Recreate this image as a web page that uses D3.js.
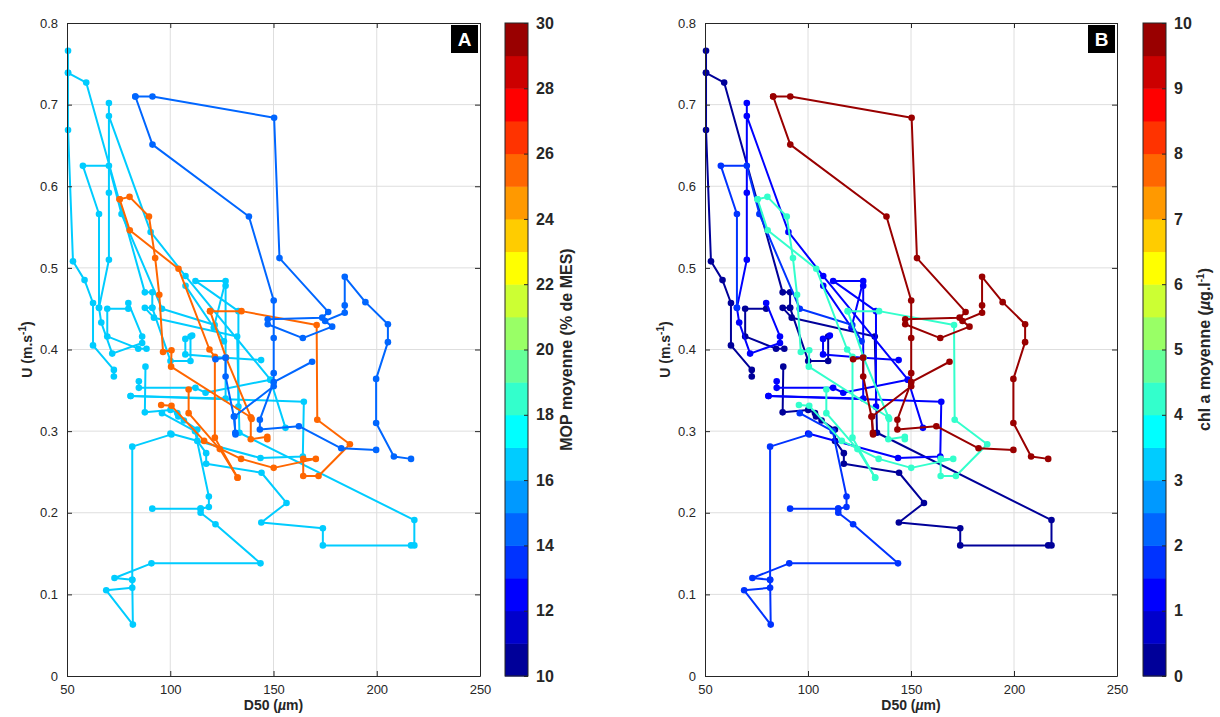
<!DOCTYPE html>
<html><head><meta charset="utf-8">
<script src="https://cdn.jsdelivr.net/npm/d3@7"></script>
<style>body{margin:0;background:#fff} text{font-family:"Liberation Sans",Arial,Helvetica,sans-serif}</style>
</head><body><svg id="c" width="1220" height="717"></svg>
<script>
// ---- data ----
const xTicks=[50,100,150,200,250];
const yTicks=[0,0.1,0.2,0.3,0.4,0.5,0.6,0.7,0.8];
const yTickLabels=["0","0.1","0.2","0.3","0.4","0.5","0.6","0.7","0.8"];
const mopTicks=[10,12,14,16,18,20,22,24,26,28,30];
const chlTicks=[0,1,2,3,4,5,6,7,8,9,10];
const jet20=["#000099","#0000CC","#0000FF","#0033FF","#0066FF","#0099FF","#00CCFF","#00FFFF","#33FFCC","#66FF99","#99FF66","#CCFF33","#FFFF00","#FFCC00","#FF9900","#FF6600","#FF3300","#FF0000","#CC0000","#990000"];

// trajectories: [D50 (µm), U (m/s)]
const n1=[[50.5,0.766],[50.5,0.739],[50.5,0.669],[52.9,0.508],[58.5,0.485],[62.6,0.457],[62.6,0.405],[72.7,0.375],[72.7,0.367]];
const n2=[[50.5,0.739],[59.3,0.727],[87.7,0.47],[91.3,0.47],[91.3,0.451],[87.7,0.451],[92.1,0.439],[132.4,0.416],[133.5,0.298],[218.2,0.191],[218.2,0.16],[216.6,0.16],[173.9,0.16],[173.9,0.181],[144.1,0.188],[156.3,0.212],[144.2,0.249],[117.4,0.26],[117.4,0.273],[113.1,0.288],[113.1,0.302],[106.6,0.313],[103.9,0.318],[103.4,0.322],[100.1,0.326],[87.7,0.323],[88,0.379]];
const n3=[[79.7,0.45],[69.5,0.45],[69.5,0.416],[84.5,0.401],[88.5,0.401]];
const n4=[[91.3,0.451],[100.1,0.386],[109.8,0.386],[109.8,0.416]];
const b1=[[79.7,0.457],[86.4,0.416],[86.4,0.408],[71.9,0.395],[66.6,0.433],[65.5,0.451],[70.3,0.51],[70.3,0.592],[70.3,0.702],[70.3,0.686],[90.5,0.544],[107.4,0.49],[148.5,0.363],[155.8,0.304]];
const b2=[[107.4,0.478],[121.1,0.427],[126.8,0.484],[112.2,0.484],[133,0.447],[133,0.33]];
const b3=[[126.8,0.478],[126.8,0.34],[80.8,0.343]];
const b4=[[80.8,0.343],[164.7,0.336],[164.2,0.269],[143.7,0.267],[100.1,0.297]];
const b5=[[110.6,0.417],[107.3,0.413],[107.3,0.394],[126.8,0.39],[144,0.387]];
const b6=[[84.8,0.361],[84.8,0.353],[112.2,0.353],[117.1,0.347],[148.5,0.363]];
const m1=[[100.6,0.296],[81.6,0.281],[81.6,0.118],[81.6,0.108],[69,0.105],[81.9,0.063],[81.6,0.118],[73,0.12],[90.9,0.138],[143.7,0.138],[121.9,0.186],[114.7,0.2],[114.7,0.205],[91.3,0.205]];
const m2=[[114.7,0.205],[118.7,0.207],[118.7,0.22],[112,0.3],[96,0.322]];
const m3=[[65.5,0.451],[65.5,0.566],[57.7,0.625],[70.3,0.625],[76.4,0.566],[96,0.45],[121.5,0.43],[126,0.41]];
const o1=[[75.5,0.584],[80.3,0.587],[89.7,0.563],[92.7,0.512],[94.7,0.467],[96.5,0.397],[100.6,0.399],[100.4,0.379],[139,0.317],[139,0.29],[147,0.293],[147,0.29]];
const o2=[[75.5,0.584],[80.4,0.546],[104,0.499],[119,0.4],[121.6,0.391],[121.6,0.292],[132.6,0.243]];
const o3=[[119.3,0.447],[134.5,0.447],[170.9,0.43],[171.2,0.314],[187,0.284],[171.8,0.245],[164.4,0.245],[164.4,0.266],[170.5,0.266],[150.1,0.255],[134.3,0.266],[116.4,0.288],[100.6,0.331],[95.6,0.332]];
const o4=[[119.3,0.447],[127,0.39],[139.4,0.315]];
const o5=[[108.9,0.351],[108.9,0.322],[124,0.278],[132.6,0.243]];
const d1=[[83.1,0.71],[91.4,0.71],[150.3,0.684],[152.9,0.512],[176.5,0.446],[173.6,0.439],[147.2,0.437]];
const d2=[[147.2,0.431],[164.2,0.414],[178.4,0.428],[175,0.435],[184.5,0.445],[184.5,0.454],[184.5,0.489],[194.5,0.458],[205.4,0.431],[205.4,0.409],[199.7,0.364],[199.7,0.31],[208.3,0.269],[216.6,0.266]];
const d3t=[[83.1,0.71],[91.4,0.651],[138.1,0.563],[150.1,0.46],[150.1,0.414],[150.1,0.371],[150.1,0.355],[131.1,0.318],[131.5,0.298]];
const d4=[[121.9,0.388],[126.8,0.39],[126.8,0.367],[130.8,0.318],[131.6,0.296]];
const d5=[[168.7,0.385],[150.1,0.36],[143.4,0.314],[143.4,0.302],[162.3,0.306],[182.8,0.279],[199.7,0.277]];

const trajectories=[n1,n2,n3,n4,b1,b2,b3,b4,b5,b6,m1,m2,m3,o1,o2,o3,o4,o5,d1,d2,d3t,d4,d5];
const trajMOP=[16.5,16.5,16.5,16.5,16.5,16.5,16.5,16.5,16.5,16.5,16.5,16.5,16.5,25.5,25.5,25.5,25.5,25.5,14.5,14.5,14.5,14.5,14.5];
const trajCHL=[0.3,0.3,0.3,0.3,1.2,1.2,1.2,1.2,1.2,1.2,1.7,1.7,1.7,4.2,4.2,4.2,4.2,4.2,9.8,9.8,9.8,9.8,9.8];

// ---- drawing ----
const svg=d3.select("#c");
const TOP=23, BOT=676;
const axisCol="#262626";

function panel(o){
  const x=d3.scaleLinear().domain([50,250]).range([o.x0,o.x1]);
  const y=d3.scaleLinear().domain([0,0.8]).range([BOT,TOP]);
  const col=d3.scaleQuantize().domain(o.cdomain).range(jet20);
  const g=svg.append("g");
  // grid
  g.append("g").selectAll("line").data(xTicks.slice(1,-1)).join("line")
    .attr("x1",d=>x(d)).attr("x2",d=>x(d)).attr("y1",TOP).attr("y2",BOT)
    .attr("stroke","#dedede").attr("stroke-width",1);
  g.append("g").selectAll("line").data(yTicks.slice(1,-1)).join("line")
    .attr("y1",d=>y(d)).attr("y2",d=>y(d)).attr("x1",o.x0).attr("x2",o.x1)
    .attr("stroke","#dedede").attr("stroke-width",1);
  // data
  const line=d3.line().x(d=>x(d[0])).y(d=>y(d[1]));
  trajectories.forEach((t,i)=>{
    const c=col(o.values[i]);
    g.append("path").attr("d",line(t)).attr("fill","none").attr("stroke",c).attr("stroke-width",2).attr("stroke-linejoin","round");
    g.append("g").selectAll("circle").data(t).join("circle")
      .attr("cx",d=>x(d[0])).attr("cy",d=>y(d[1])).attr("r",3.3).attr("fill",c);
  });
  // axes
  const fs="13px";
  const ax=g.append("g").attr("transform",`translate(0,${BOT})`)
    .call(d3.axisBottom(x).tickValues(xTicks).tickSizeInner(-5).tickSizeOuter(0).tickPadding(9).tickFormat(d3.format("d")));
  const ay=g.append("g").attr("transform",`translate(${o.x0},0)`)
    .call(d3.axisLeft(y).tickValues(yTicks).tickSizeInner(-5).tickSizeOuter(0).tickPadding(9).tickFormat((d,i)=>yTickLabels[i]));
  const at=g.append("g").attr("transform",`translate(0,${TOP})`)
    .call(d3.axisTop(x).tickValues(xTicks).tickSizeInner(-5).tickSizeOuter(0).tickFormat(""));
  const ar=g.append("g").attr("transform",`translate(${o.x1},0)`)
    .call(d3.axisRight(y).tickValues(yTicks).tickSizeInner(-5).tickSizeOuter(0).tickFormat(""));
  [ax,ay,at,ar].forEach(a=>{
    a.selectAll("path").attr("stroke",axisCol).attr("stroke-width",1);
    a.selectAll("line").attr("stroke",axisCol);
    a.selectAll("text").attr("fill",axisCol).style("font-size",fs).style("font-family",'"Liberation Sans",Arial,sans-serif');
  });
  // panel letter
  g.append("rect").attr("x",o.x1-29).attr("y",TOP+2).attr("width",27).attr("height",28).attr("fill","#000");
  g.append("text").attr("x",o.x1-15.5).attr("y",TOP+23).attr("text-anchor","middle").attr("fill","#fff")
    .style("font-size","19px").style("font-weight","bold").text(o.letter);
  // axis titles
  const xl=g.append("text").attr("x",(o.x0+o.x1)/2).attr("y",710).attr("text-anchor","middle")
    .attr("fill",axisCol).style("font-size","14px").style("font-weight","bold");
  xl.append("tspan").text("D50 (");
  xl.append("tspan").style("font-style","italic").text("µ");
  xl.append("tspan").text("m)");
  const yl=g.append("text").attr("transform",`translate(${o.x0-35},${(TOP+BOT)/2}) rotate(-90)`)
    .attr("text-anchor","middle").attr("fill",axisCol).style("font-size","14px").style("font-weight","bold");
  yl.append("tspan").text("U (m.s");
  yl.append("tspan").attr("dy",-6).style("font-size","10px").text("-1");
  yl.append("tspan").attr("dy",6).text(")");
  // colorbar
  const cy=d3.scaleLinear().domain(o.cdomain).range([BOT,TOP]);
  const cw=23;
  const step=(o.cdomain[1]-o.cdomain[0])/20;
  const lv=d3.range(20).map(i=>o.cdomain[0]+i*step);
  g.append("g").selectAll("rect").data(lv).join("rect")
    .attr("x",o.cb).attr("width",cw).attr("y",d=>cy(d+step)).attr("height",d=>cy(d)-cy(d+step)+0.5)
    .attr("fill",d=>col(d+step/2));
  g.append("rect").attr("x",o.cb).attr("y",TOP).attr("width",cw).attr("height",BOT-TOP)
    .attr("fill","none").attr("stroke",axisCol).attr("stroke-width",1);
  const ac=g.append("g").attr("transform",`translate(${o.cb+cw},0)`)
    .call(d3.axisRight(cy).tickValues(o.cticks).tickSizeInner(-4).tickSizeOuter(0).tickPadding(8).tickFormat(d3.format("d")));
  ac.select("path").remove();
  ac.selectAll("line").attr("stroke",axisCol);
  ac.selectAll("text").attr("fill",axisCol).style("font-size","16px").style("font-weight","bold").style("font-family",'"Liberation Sans",Arial,sans-serif');
  const cl=g.append("text").attr("transform",`translate(${o.cb+cw+44},${(TOP+BOT)/2}) rotate(-90)`)
    .attr("text-anchor","middle").attr("fill",axisCol).style("font-size","16px").style("font-weight","bold");
  o.clabel(cl);
}

panel({x0:67,x1:480,cb:505,letter:"A",cdomain:[10,30],cticks:mopTicks,values:trajMOP,
  clabel:t=>t.text("MOP moyenne (% de MES)")});
panel({x0:705,x1:1117,cb:1143,letter:"B",cdomain:[0,10],cticks:chlTicks,values:trajCHL,
  clabel:t=>{t.append("tspan").text("chl a moyenne (");t.append("tspan").style("font-style","italic").text("µ");
    t.append("tspan").text("g.l");t.append("tspan").attr("dy",-6).style("font-size","10px").text("-1");
    t.append("tspan").attr("dy",6).text(")");}});
</script></body></html>
